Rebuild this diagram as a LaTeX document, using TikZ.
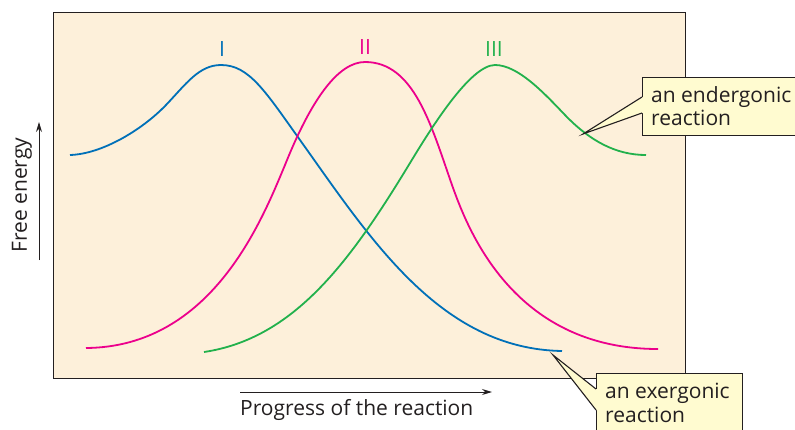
\documentclass[tikz,border=0pt]{standalone}
\usepackage{fontspec}
\setmainfont{Open Sans}
\usetikzlibrary{arrows.meta}
\definecolor{panelbg}{RGB}{253,240,218}
\definecolor{calloutbg}{RGB}{255,251,208}
\definecolor{inkdark}{RGB}{35,31,32}
\definecolor{cblue}{RGB}{0,112,184}
\definecolor{cpink}{RGB}{236,0,140}
\definecolor{cgreen}{RGB}{34,177,76}
\tikzset{
  curve/.style={line width=1.8pt},
  lbl/.style={font=\fontsize{21}{24}\selectfont, text=inkdark, inner sep=0pt},
  roman/.style={font=\fontsize{21}{24}\selectfont, inner sep=0pt, anchor=base},
  calloutbox/.style={draw=inkdark, line width=1.1pt, fill=calloutbg, inner sep=0pt, anchor=north west},
  axisarrow/.style={draw=inkdark, line width=1pt, -{Stealth[length=10pt,width=6pt]}}
}
\begin{document}
\begin{tikzpicture}[x=1pt,y=-1pt]
\useasboundingbox (0,0) rectangle (795,429);
% panel
\node[draw=inkdark, line width=1.4pt, fill=panelbg, anchor=north west, minimum width=632pt, minimum height=366pt, inner sep=0pt] (panel) at (52.5,12) {};
% curve I (blue)
\draw[cblue, curve] (70,155) .. controls (102,154) and (142,130) .. (166,105)
  .. controls (186,84) and (199,65) .. (221,65)
  .. controls (249,65) and (265,91) .. (300,140)
  .. controls (370,238) and (440,349) .. (562,351);
% curve II (pink)
\draw[cpink, curve] (86,348) .. controls (212,347) and (262,220) .. (285,165)
  .. controls (311,100) and (338,62) .. (365,62)
  .. controls (414,62) and (431,125) .. (452,185)
  .. controls (467,227) and (512,349) .. (658,349);
% curve III (green)
\draw[cgreen, curve] (204,352) .. controls (294,338.5) and (350,262) .. (410,163)
  .. controls (430,130) and (470,65) .. (495,65)
  .. controls (518,65) and (544,93) .. (565,115)
  .. controls (590,141) and (616,155) .. (646,155);
% roman labels
\node[roman, text=cblue] (lI) at (222,56) {I};
\node[roman, text=cpink] (lII) at (365,54) {II};
\node[roman, text=cgreen] (lIII) at (494,56) {III};
% endergonic callout
\node[calloutbox, minimum width=170pt, minimum height=58pt] (endbox) at (642,77) {};
\coordinate (endtip) at (583,134);
\fill[calloutbg] (endtip) -- (642,97) -- (645,97) -- (645,113) -- (642,113) -- cycle;
\draw[inkdark, line width=1.1pt] (642,97) -- (endtip) -- (642,113);
\node[lbl, anchor=base west] (endt1) at (651,102) {an endergonic};
\node[lbl, anchor=base west] (endt2) at (651,125) {reaction};
% exergonic callout
\node[calloutbox, minimum width=146pt, minimum height=70pt] (exbox) at (596,373) {};
\coordinate (extip) at (553,355);
\fill[calloutbg] (extip) -- (596,389) -- (599,389) -- (599,410) -- (596,410) -- cycle;
\draw[inkdark, line width=1.1pt] (596,389) -- (extip) -- (596,410);
\node[lbl, anchor=base west] (ext1) at (605,398) {an exergonic};
\node[lbl, anchor=base west] (ext2) at (605,422) {reaction};
% axes
\coordinate (xa0) at (240,392);
\coordinate (xa1) at (492,392);
\draw[axisarrow] (xa0) -- (xa1);
\node[lbl, anchor=base west] (xlab) at (240,415) {Progress of the reaction};
\coordinate (ya0) at (39,260);
\coordinate (ya1) at (39,122);
\draw[axisarrow] (ya0) -- (ya1);
\node[lbl, rotate=90, anchor=base] (ylab) at (27,195) {Free energy};
\end{tikzpicture}
\end{document}
